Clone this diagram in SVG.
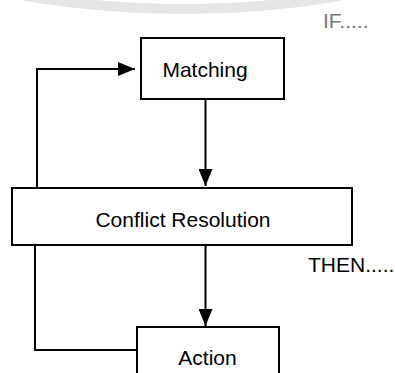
<svg xmlns="http://www.w3.org/2000/svg" width="395" height="373" viewBox="0 0 395 373">
<style>
.box{fill:#fff;stroke:#000;stroke-width:2}
.ln{fill:none;stroke:#000;stroke-width:2}
.t{font-family:"Liberation Sans",Arial,sans-serif;font-size:21px;fill:#000}
</style>
<defs>
<marker id="ah" viewBox="0 0 17 14" refX="17" refY="7" markerWidth="17" markerHeight="14" markerUnits="userSpaceOnUse" orient="auto">
<path d="M0,0 L17,7 L0,14 Z" fill="#000"/>
</marker>
</defs>
<rect width="395" height="373" fill="#fff"/>
<path d="M 25 -4 Q 185 22 340 -4" fill="none" stroke="#e6e6e6" stroke-width="10"/>
<text class="t" x="323" y="28" style="fill:#777">IF.....</text>
<text class="t" x="308" y="272">THEN.....</text>
<g id="connectors">
<path class="ln" d="M37,188 L37,69 L135,69" marker-end="url(#ah)"/>
<path class="ln" d="M205.5,99 L205.5,186" marker-end="url(#ah)"/>
<path class="ln" d="M205.5,245 L205.5,326" marker-end="url(#ah)"/>
<path class="ln" d="M35,245 L35,350 L137,350"/>
</g>
<g id="matching">
<rect class="box" x="141" y="38" width="143" height="61"/>
<text class="t" x="205" y="77" text-anchor="middle">Matching</text>
</g>
<g id="conflict">
<rect class="box" x="12" y="188" width="340" height="57"/>
<text class="t" x="183" y="227" text-anchor="middle">Conflict Resolution</text>
</g>
<g id="action">
<rect class="box" x="137" y="327" width="142" height="60"/>
<text class="t" x="207.5" y="365" text-anchor="middle">Action</text>
</g>
</svg>
